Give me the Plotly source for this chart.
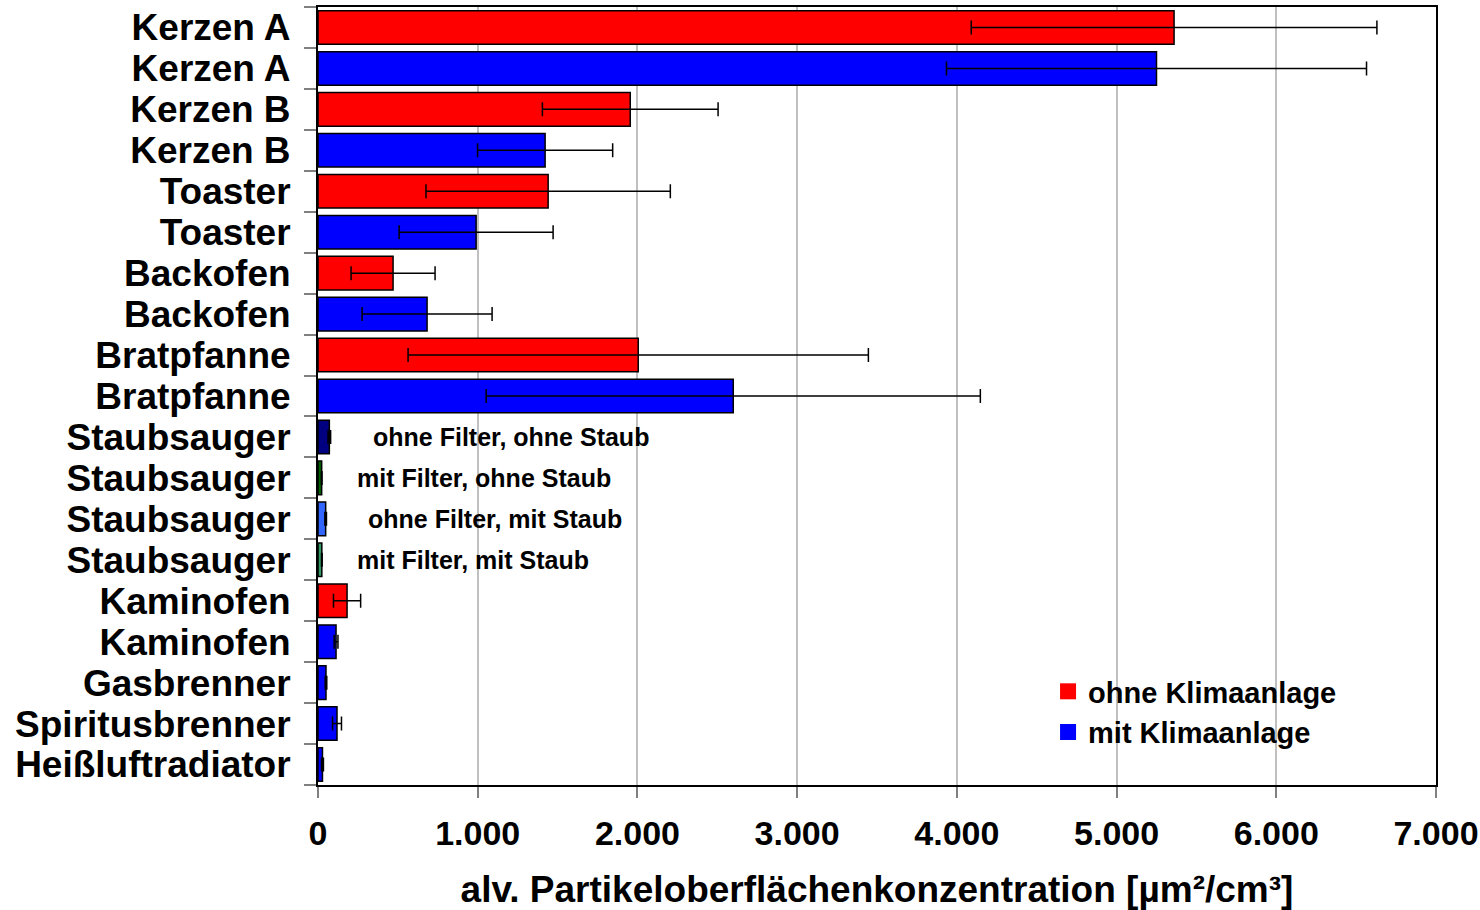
import plotly.graph_objects as go

# ---- data ----
labels = ["Kerzen A", "Kerzen A", "Kerzen B", "Kerzen B", "Toaster", "Toaster",
          "Backofen", "Backofen", "Bratpfanne", "Bratpfanne",
          "Staubsauger", "Staubsauger", "Staubsauger", "Staubsauger",
          "Kaminofen", "Kaminofen", "Gasbrenner", "Spiritusbrenner", "Heißluftradiator"]

# positions of bars in each group (index into labels)
red_idx = [0, 2, 4, 6, 8, 14]
red_vals = [5360, 1955, 1441, 470, 2005, 182]
red_err = [1270, 550, 765, 263, 1441, 85]

blue_idx = [1, 3, 5, 7, 9, 15, 16, 17, 18]
blue_vals = [5250, 1422, 990, 683, 2600, 113, 50, 119, 28]
blue_err = [1315, 423, 482, 407, 1547, 12, 5, 28, 6]

staub_idx = [10, 11, 12, 13]
staub_vals = [71, 23, 48, 24]
staub_err = [8, 2, 5, 2]
staub_colors = ["#000080", "#006400", "#3366FF", "#339966"]
staub_notes = ["ohne Filter, ohne Staub", "mit Filter, ohne Staub",
               "ohne Filter, mit Staub", "mit Filter, mit Staub"]
staub_note_x = [332, 232, 300, 232]

series_names = ["ohne Klimaanlage", "mit Klimaanlage"]
series_colors = ["#FF0000", "#0000FF"]
x_title = "alv. Partikeloberflächenkonzentration [µm²/cm³]"

FONT = "Liberation Sans, Arial, sans-serif"
BAR_W = 0.82

fig = go.Figure()

def add_bars(idx, vals, err, color, name):
    fig.add_trace(go.Bar(
        y=idx, x=vals, orientation="h", name=name, showlegend=False,
        width=BAR_W,
        marker=dict(color=color, line=dict(color="black", width=1.5)),
        error_x=dict(type="data", array=err, color="black", thickness=1.5, width=7),
    ))

add_bars(red_idx, red_vals, red_err, series_colors[0], series_names[0])
add_bars(blue_idx, blue_vals, blue_err, series_colors[1], series_names[1])
add_bars(staub_idx, staub_vals, staub_err, staub_colors, "Staubsauger")

# legend entries (larger square swatches)
for name, col in zip(series_names, series_colors):
    fig.add_trace(go.Scatter(
        x=[None], y=[None], mode="markers", name=name, showlegend=True,
        marker=dict(symbol="square", size=16, color=col, line=dict(width=0)),
    ))

for i, t, xx in zip(staub_idx, staub_notes, staub_note_x):
    fig.add_annotation(x=xx, y=i, text=t, showarrow=False, xanchor="left",
                       yanchor="middle",
                       font=dict(family=FONT, size=25, color="black", weight="bold"))

fig.update_layout(
    width=1480, height=910,
    paper_bgcolor="white", plot_bgcolor="white",
    margin=dict(l=318, r=44, t=7, b=125),
    barmode="overlay",
    separators=",.",
    font=dict(family=FONT, color="black", weight="bold"),
    legend=dict(x=0.653, y=0.153, xanchor="left", yanchor="top",
                bgcolor="rgba(0,0,0,0)", borderwidth=0,
                font=dict(family=FONT, size=29, color="black", weight="bold"),
                tracegroupgap=0),
)

fig.update_xaxes(
    range=[0, 7000], dtick=1000, tick0=0, tickformat=",d",
    automargin=False,
    showgrid=True, gridcolor="#C0C0C0", gridwidth=1.5,
    showline=True, linecolor="black", linewidth=2, mirror=True,
    ticks="outside", ticklen=11, tickcolor="#808080", tickwidth=1.5,
    ticklabelstandoff=6,
    tickfont=dict(family=FONT, size=34, color="black", weight="bold"),
    title=dict(text=x_title, standoff=30,
               font=dict(family=FONT, size=37, color="black", weight="bold")),
    zeroline=False,
)

fig.update_yaxes(
    range=[len(labels) - 0.5, -0.5],
    automargin=False,
    tickmode="array", tickvals=list(range(len(labels))), ticktext=labels,
    ticks="", ticklen=0,
    showgrid=False, zeroline=False,
    showline=True, linecolor="black", linewidth=2, mirror=True,
    tickfont=dict(family=FONT, size=37, color="black", weight="bold"),
    minor=dict(tickmode="linear", tick0=-0.5, dtick=1, ticks="outside",
               ticklen=12, tickcolor="#808080", tickwidth=1.5, showgrid=False),
    ticklabelstandoff=18,
)

fig.write_html("out.html",
               config={"displayModeBar": False},
               post_script="document.body.style.margin='0';document.body.style.overflow='hidden';")
